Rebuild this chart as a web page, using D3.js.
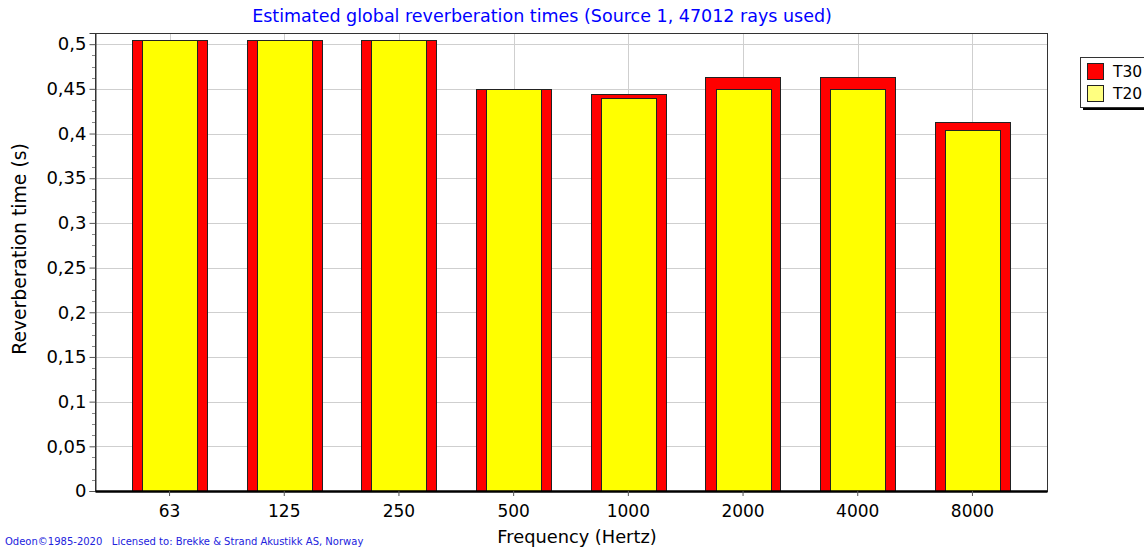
<!DOCTYPE html>
<html>
<head>
<meta charset="utf-8">
<script src="https://cdn.jsdelivr.net/npm/d3@7"></script>
<style>
  html, body { margin: 0; padding: 0; background: #ffffff; }
  svg { display: block; }
  text { font-family: "DejaVu Sans", Verdana, sans-serif; }
</style>
</head>
<body>
<svg id="chart" width="1144" height="548"></svg>
<script>
// Octave-band centre frequencies (Hz)
const frequencies = ["63", "125", "250", "500", "1000", "2000", "4000", "8000"];
// Reverberation times per band (s)
const t30Values = [0.505, 0.505, 0.505, 0.450, 0.444, 0.463, 0.463, 0.413];
const t20Values = [0.505, 0.505, 0.505, 0.450, 0.440, 0.450, 0.450, 0.404];
const yTickValues = [0, 0.05, 0.1, 0.15, 0.2, 0.25, 0.3, 0.35, 0.4, 0.45, 0.5];
const seriesNames = ["T30", "T20"];

const svg = d3.select("#chart");
const plot = { left: 95, right: 1047, top: 33, bottom: 491 };

const x = d3.scaleBand()
  .domain(frequencies)
  .range([plot.left, plot.right])
  .paddingInner(0)
  .paddingOuter(0.15);

const y = d3.scaleLinear()
  .domain([0, 0.5125])
  .range([plot.bottom, plot.top]);

const fmt = v => String(+v.toFixed(3)).replace(".", ",");

// grid
const grid = svg.append("g");
grid.selectAll("line.h")
  .data(yTickValues)
  .join("line")
  .attr("x1", plot.left).attr("x2", plot.right)
  .attr("y1", d => Math.round(y(d)) + 0.5).attr("y2", d => Math.round(y(d)) + 0.5)
  .attr("stroke", "#cfcfcf").attr("stroke-width", 1);
grid.selectAll("line.v")
  .data(frequencies)
  .join("line")
  .attr("x1", d => Math.round(x(d) + x.bandwidth() / 2) + 0.5)
  .attr("x2", d => Math.round(x(d) + x.bandwidth() / 2) + 0.5)
  .attr("y1", plot.top).attr("y2", plot.bottom)
  .attr("stroke", "#cfcfcf").attr("stroke-width", 1);

// bars: T30 behind (wide, red), T20 in front (narrow, yellow)
const bw = x.bandwidth();
const t30W = bw * 0.655, t20W = bw * 0.48;
const bars = svg.append("g");
bars.selectAll("rect.t30")
  .data(frequencies.map((f, i) => ({ f, v: t30Values[i] })))
  .join("rect")
  .attr("x", d => Math.round(x(d.f) + bw / 2 - t30W / 2) + 0.5)
  .attr("y", d => Math.round(y(d.v)) + 0.5)
  .attr("width", Math.round(t30W))
  .attr("height", d => Math.round(y(0)) - Math.round(y(d.v)))
  .attr("fill", "#ff0000")
  .attr("stroke", "#222").attr("stroke-width", 1);
bars.selectAll("rect.t20")
  .data(frequencies.map((f, i) => ({ f, v: t20Values[i] })))
  .join("rect")
  .attr("x", d => Math.round(x(d.f) + bw / 2 - t20W / 2) + 0.5)
  .attr("y", d => Math.round(y(d.v)) + 0.5)
  .attr("width", Math.round(t20W))
  .attr("height", d => Math.round(y(0)) - Math.round(y(d.v)))
  .attr("fill", "#ffff00")
  .attr("stroke", "#222").attr("stroke-width", 1);

// plot frame (top/right/left thin)
svg.append("rect")
  .attr("x", plot.left + 0.5).attr("y", plot.top + 0.5)
  .attr("width", plot.right - plot.left).attr("height", plot.bottom - plot.top)
  .attr("fill", "none").attr("stroke", "#333").attr("stroke-width", 1);

// y axis
const yAxis = svg.append("g")
  .attr("transform", `translate(${plot.left + 0.5},0)`)
  .call(d3.axisLeft(y).tickValues(yTickValues).tickFormat(fmt).tickSize(6).tickPadding(3));
yAxis.select(".domain").attr("stroke", "#333");
yAxis.selectAll(".tick line").attr("stroke", "#555");
yAxis.selectAll(".tick text")
  .attr("font-size", 18).attr("fill", "#000")
  .attr("font-family", "'DejaVu Sans', sans-serif");

// minor y ticks
const minor = d3.range(0, 0.5125, 0.0125).filter(v => Math.abs(v / 0.05 - Math.round(v / 0.05)) > 1e-6);
svg.append("g").selectAll("line")
  .data(minor)
  .join("line")
  .attr("x1", plot.left - 3).attr("x2", plot.left)
  .attr("y1", d => Math.round(y(d)) + 0.5).attr("y2", d => Math.round(y(d)) + 0.5)
  .attr("stroke", "#888");

// x axis
const xAxis = svg.append("g")
  .attr("transform", `translate(0,${plot.bottom})`)
  .call(d3.axisBottom(x).tickSize(5).tickPadding(9).tickSizeOuter(0));
xAxis.select(".domain").attr("stroke", "#000").attr("stroke-width", 2.5);
xAxis.selectAll(".tick line").attr("stroke", "#555");
xAxis.selectAll(".tick text")
  .attr("font-size", 17).attr("fill", "#000")
  .attr("font-family", "'DejaVu Sans', sans-serif");

// titles
svg.append("text")
  .attr("x", 542).attr("y", 22)
  .attr("text-anchor", "middle")
  .attr("font-size", 17.5)
  .attr("fill", "#0000ff")
  .text("Estimated global reverberation times (Source 1, 47012 rays used)");

svg.append("text")
  .attr("x", 577).attr("y", 543)
  .attr("text-anchor", "middle")
  .attr("font-size", 17.8)
  .attr("fill", "#000")
  .text("Frequency (Hertz)");

svg.append("text")
  .attr("transform", "translate(26,249) rotate(-90)")
  .attr("text-anchor", "middle")
  .attr("font-size", 18.8)
  .attr("fill", "#000")
  .text("Reverberation time (s)");

svg.append("text")
  .attr("x", 5).attr("y", 545)
  .attr("font-size", 10)
  .attr("fill", "#2222dd")
  .style("white-space", "pre")
  .text("Odeon\u00A91985-2020   Licensed to: Brekke & Strand Akustikk AS, Norway");

// legend
const legend = svg.append("g");
legend.append("rect")
  .attr("x", 1083).attr("y", 60).attr("width", 80).attr("height", 50)
  .attr("fill", "#000");
legend.append("rect")
  .attr("x", 1080.5).attr("y", 57.5).attr("width", 80).attr("height", 50)
  .attr("fill", "#fff").attr("stroke", "#333");
const legendFill = ["#ff0000", "#ffff80"];
seriesNames.forEach((name, i) => {
  legend.append("rect")
    .attr("x", 1087.5).attr("y", 63.5 + i * 22)
    .attr("width", 16).attr("height", 16)
    .attr("fill", legendFill[i]).attr("stroke", "#222");
  legend.append("text")
    .attr("x", 1113).attr("y", 77 + i * 22)
    .attr("font-size", 15.5)
    .attr("fill", "#000")
    .text(name);
});
</script>
</body>
</html>
